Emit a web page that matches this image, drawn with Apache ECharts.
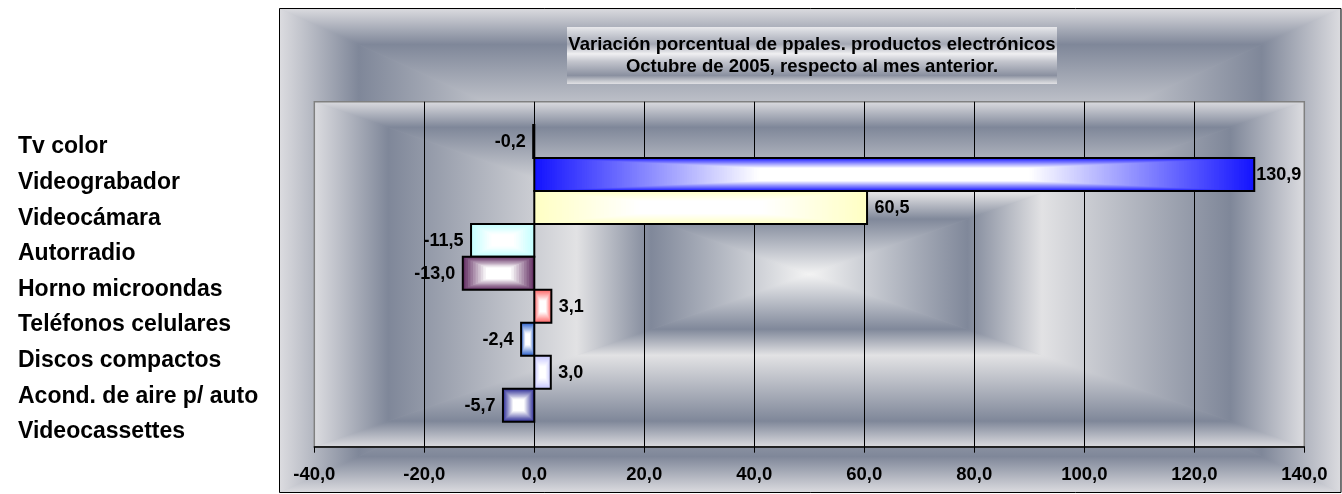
<!DOCTYPE html>
<html><head><meta charset="utf-8">
<script src="https://cdn.jsdelivr.net/npm/echarts@6/dist/echarts.min.js"></script>
<style>html,body{margin:0;padding:0;background:#fff}#c{width:1342px;height:494px}</style>
</head><body><div id="c"></div>
<script>
// ---------- data ----------
const categories = ['Tv color','Videograbador','Videocámara','Autorradio','Horno microondas','Teléfonos celulares','Discos compactos','Acond. de aire p/ auto','Videocassettes'];
const values = [-0.2, 130.9, 60.5, -11.5, -13.0, 3.1, -2.4, 3.0, -5.7];
const xMin = -40, xMax = 140, xInterval = 20;
const titleLines = ['Variación porcentual de ppales. productos electrónicos', 'Octubre de 2005, respecto al mes anterior.'];

// ---------- styles / layout ----------
const barEdgeColors = ['#333399','#1414ff','#ffffc4','#c4ffff','#663366','#ff6b6b','#3366cc','#c8c8ff','#333399'];
const FONT = '"Liberation Sans", Arial, sans-serif';
const CHROME = [[0,'#dcdce0'],[0.15,'#7f8799'],[0.53,'#e2e2e4'],[0.68,'#80889a'],[1,'#f4f4f4']];
const TITLE_GRAD = [[0,'#e8e8ec'],[0.08,'#d4d6dc'],[0.3,'#a4a8b4'],[0.47,'#f0f0f2'],[0.6,'#c4c6ce'],[0.85,'#8a90a0'],[0.95,'#c8cad0'],[1,'#e0e0e4']];
const W = 1342, H = 494;
const OUTER = {x1:279.5, y1:8.5, x2:1341, y2:492.5};
const PLOT = {x1:314.3, y1:101.7, x2:1304.3, y2:446.7};
const BARS = {y1:125, y2:421.7};
const CATS = {x:18, y1:129.2, y2:449.6};
const TITLE = {x1:567, y1:27, x2:1057, y2:84};

const fmt = v => v.toFixed(1).replace('.', ',');
const LABEL_FONT = 'bold 18px ' + FONT;
const mctx = document.createElement('canvas').getContext('2d');
function measure(t){ mctx.font = LABEL_FONT; return mctx.measureText(t).width; }

function hex(c){ c=c.replace('#',''); return [parseInt(c.substr(0,2),16),parseInt(c.substr(2,2),16),parseInt(c.substr(4,2),16)]; }
function mix(c1,c2,t){ const a=hex(c1), b=hex(c2); return 'rgb('+a.map((x,i)=>Math.round(x+(b[i]-x)*t)).join(',')+')'; }
function grad(x,y,x2,y2,stops){ return {type:'linear',x,y,x2,y2,global:false,colorStops:stops.map(s=>({offset:s[0],color:s[1]}))}; }

function chrome(r, z){
  const cx=(r.x1+r.x2)/2, cy=(r.y1+r.y2)/2;
  const tri=(pts,g)=>({type:'polygon',silent:true,z,shape:{points:pts},style:{fill:g,stroke:g,lineWidth:0.8}});
  return [
    {type:'rect',silent:true,z:z-1,shape:{x:r.x1,y:r.y1,width:r.x2-r.x1,height:r.y2-r.y1},style:{fill:'#b4b8c2'}},
    tri([[r.x1,r.y1],[r.x2,r.y1],[cx,cy]], grad(0,0,0,1,CHROME)),
    tri([[r.x1,r.y2],[r.x2,r.y2],[cx,cy]], grad(0,1,0,0,CHROME)),
    tri([[r.x1,r.y1],[r.x1,r.y2],[cx,cy]], grad(0,0,1,0,CHROME)),
    tri([[r.x2,r.y1],[r.x2,r.y2],[cx,cy]], grad(1,0,0,0,CHROME))
  ];
}

const graphics = [].concat(
  chrome(OUTER, -30),
  [{type:'rect',silent:true,z:-25,shape:{x:OUTER.x1,y:OUTER.y1,width:OUTER.x2-OUTER.x1,height:OUTER.y2-OUTER.y1},style:{fill:'none',stroke:'#000',lineWidth:1}}],
  chrome(PLOT, -20),
  [{type:'rect',silent:true,z:-5,shape:{x:TITLE.x1,y:TITLE.y1,width:TITLE.x2-TITLE.x1,height:TITLE.y2-TITLE.y1},style:{fill:grad(0,0,0,1,TITLE_GRAD)}},
   {type:'text',silent:true,z:5,style:{text:titleLines.join('\n'),x:(TITLE.x1+TITLE.x2)/2,y:(TITLE.y1+TITLE.y2)/2,
     align:'center',textAlign:'center',verticalAlign:'middle',textVerticalAlign:'middle',
     font:'bold 18.5px '+FONT,lineHeight:22,fill:'#000'}}]
);

function renderBar(params, api){
  const v = api.value(0), i = api.value(1);
  const p0 = api.coord([0,i]), p1 = api.coord([v,i]);
  const bh = api.size([0,1])[1];
  const x = Math.min(p0[0],p1[0]), w = Math.abs(p1[0]-p0[0]), y = p0[1]-bh/2, h = bh;
  const edge = barEdgeColors[params.dataIndex];
  const N = Math.max(14, Math.round(w/5)), children = [];
  for (let k=0;k<N;k++){
    const f = k/N*0.5;
    const t = Math.min(1, (k/N)/0.62);
    children.push({type:'rect',shape:{x:x+f*w,y:y+f*h,width:w*(1-2*f),height:h*(1-2*f)},style:{fill:mix(edge,'#ffffff',t)}});
  }
  children.push({type:'rect',shape:{x:x,y:y,width:w,height:h},style:{fill:'none',stroke:'#000',lineWidth:2}});
  const txt = fmt(v), tw = measure(txt);
  let lx;
  if (v < 0){ lx = x - 7.5; if (lx - tw < PLOT.x1 + 3) lx = PLOT.x1 + 3 + tw; }
  else { lx = x + w + 7.5; if (lx + tw > PLOT.x2 - 3) lx = PLOT.x2 - 3 - tw; }
  children.push({type:'text',style:{text:txt,x:lx,y:y+h/2+1,align:v<0?'right':'left',textAlign:v<0?'right':'left',
    verticalAlign:'middle',textVerticalAlign:'middle',font:LABEL_FONT,fill:'#000'}});
  return {type:'group',children};
}

const chart = echarts.init(document.getElementById('c'), null, {renderer:'canvas'});
chart.setOption({
  animation:false,
  backgroundColor:'#ffffff',
  graphic:{elements:graphics},
  grid:[
    {left:PLOT.x1,right:W-PLOT.x2,top:PLOT.y1,bottom:H-PLOT.y2,show:true,backgroundColor:'transparent',borderColor:'#808080',borderWidth:1.5,outerBoundsMode:'none'},
    {left:PLOT.x1,right:W-PLOT.x2,top:BARS.y1,bottom:H-BARS.y2,outerBoundsMode:'none'},
    {left:CATS.x,width:10,top:CATS.y1,bottom:H-CATS.y2,outerBoundsMode:'none'}
  ],
  xAxis:[
    {gridIndex:0,type:'value',min:xMin,max:xMax,interval:xInterval,
     axisLine:{show:true,onZero:false,lineStyle:{color:'#000',width:1.5}},
     axisTick:{show:true,length:6,lineStyle:{color:'#000',width:1}},
     axisLabel:{formatter:fmt,margin:19,color:'#000',fontSize:18.5,fontWeight:'bold',fontFamily:FONT},
     splitLine:{show:true,showMinLine:false,showMaxLine:false,lineStyle:{color:'#000',width:1}}},
    {gridIndex:1,type:'value',min:xMin,max:xMax,interval:xInterval,show:false},
    {gridIndex:2,type:'value',min:0,max:1,show:false}
  ],
  yAxis:[
    {gridIndex:0,type:'value',min:0,max:1,show:false},
    {gridIndex:1,type:'category',data:categories,inverse:true,show:false},
    {gridIndex:2,type:'category',data:categories,inverse:true,
     axisLine:{show:false},axisTick:{show:false},splitLine:{show:false},
     axisLabel:{align:'left',margin:0,color:'#000',fontSize:23,fontWeight:'bold',fontFamily:FONT}}
  ],
  series:[{
    type:'custom',xAxisIndex:1,yAxisIndex:1,
    data:values.map((v,i)=>[v,i]),
    encode:{x:0,y:1},
    renderItem:renderBar,
    clip:false
  }]
});
</script></body></html>
